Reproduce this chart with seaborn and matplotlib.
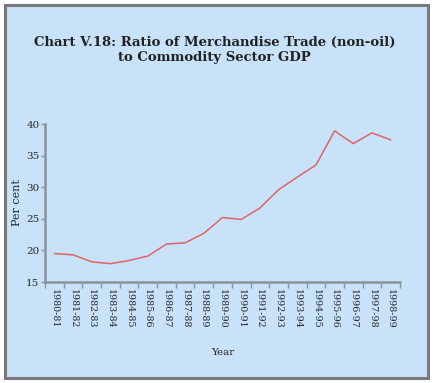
import pandas as pd
import matplotlib
matplotlib.use("Agg")
import matplotlib.pyplot as plt
from matplotlib.patches import Rectangle
import seaborn as sns

# donnees
years = ["1980-81", "1981-82", "1982-83", "1983-84", "1984-85", "1985-86",
         "1986-87", "1987-88", "1988-89", "1989-90", "1990-91", "1991-92",
         "1992-93", "1993-94", "1994-95", "1995-96", "1996-97", "1997-98",
         "1998-99"]
ratio = [19.5, 19.3, 18.2, 17.9, 18.4, 19.1, 21.0, 21.2, 22.7, 25.2, 24.9,
         26.7, 29.6, 31.6, 33.5, 38.9, 36.9, 38.6, 37.5]

df = pd.DataFrame({"Year": years, "Ratio": ratio})

bg = "#c8e2fa"
grey = "#8c9398"

sns.set_style("white")
plt.rcParams["font.family"] = ["DejaVu Serif"]

fig = plt.figure(figsize=(4.34, 3.83), dpi=100)
fig.patch.set_facecolor("white")
fig.patches.append(Rectangle((5 / 434, 5 / 383), 423 / 434, 373 / 383,
                             transform=fig.transFigure, facecolor=bg,
                             edgecolor="#7a7a7a", linewidth=2.2, zorder=-1))

ax = fig.add_axes([45 / 434, 1 - 282 / 383, 355 / 434, 158 / 383])
ax.patch.set_alpha(0)

sns.lineplot(data=df, x="Year", y="Ratio", ax=ax, color="#e06464",
             linewidth=1.1, sort=False)

ax.set_xlim(-0.5, len(years) - 0.5)
ax.set_ylim(15, 40)
ax.set_yticks([15, 20, 25, 30, 35, 40])
ax.set_yticklabels(["15", "20", "25", "30", "35", "40"], fontsize=7.5)

# ticks aux limites des categories, etiquettes au centre
ax.set_xticks([i - 0.5 for i in range(len(years) + 1)])
ax.set_xticklabels([])
ax.set_xticks(range(len(years)), minor=True)
ax.set_xticklabels(years, minor=True, rotation=270, fontsize=6.8)
ax.tick_params(axis="x", which="major", bottom=True, length=4, width=1,
               color=grey)
ax.tick_params(axis="x", which="minor", bottom=True, length=0, pad=5)
ax.tick_params(axis="y", left=True, length=3, width=1, color=grey, pad=1)

for s in ["top", "right"]:
    ax.spines[s].set_visible(False)
for s in ["left", "bottom"]:
    ax.spines[s].set_color(grey)
    ax.spines[s].set_linewidth(1.8)

ax.set_xlabel("Year", fontsize=7.5, labelpad=14)
ax.set_ylabel("Per cent", fontsize=8, labelpad=3)

fig.text(0.495, 1 - 50 / 383,
         "Chart V.18: Ratio of Merchandise Trade (non-oil)\nto Commodity Sector GDP",
         ha="center", va="center", fontsize=9.5, fontweight="bold",
         linespacing=1.25, color="#222222")

fig.savefig("out.png", dpi=100, facecolor=fig.get_facecolor())
